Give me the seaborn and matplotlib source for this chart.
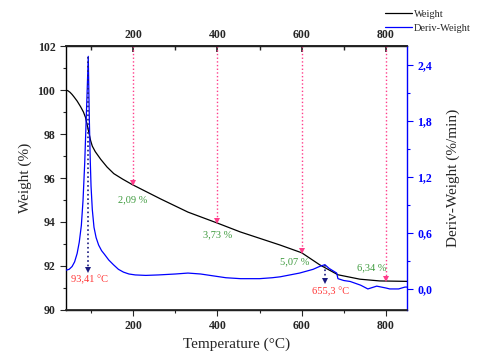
import numpy as np
import pandas as pd
import matplotlib
matplotlib.use("Agg")
import matplotlib.pyplot as plt
from matplotlib.ticker import MultipleLocator, FuncFormatter
import seaborn as sns

# TGA curve (weight %)
weight_temp = [40, 45, 50, 55, 60, 67, 75, 82, 87, 91, 95, 99, 103, 110, 123, 138, 154,
               175, 198, 265, 330, 400, 454, 549, 600, 643, 686, 738, 785, 850]
weight_pct = [100.0, 99.97, 99.9, 99.8, 99.68, 99.5, 99.25, 99.0, 98.75, 98.4, 98.05,
              97.7, 97.45, 97.2, 96.85, 96.5, 96.2, 95.95, 95.7, 95.05, 94.45, 93.95,
              93.55, 92.95, 92.6, 92.05, 91.6, 91.4, 91.32, 91.3]

# DTG curve (%/min)
dtg_temp = [40, 48, 55, 61, 67, 72, 77, 81, 85, 88, 91, 93.4, 94.5, 96, 98, 100, 103,
            107, 112, 118, 125, 132, 142, 153, 165, 177, 190, 205, 230, 260, 300, 330,
            360, 390, 420, 455, 500, 530, 549, 595, 627, 642, 655, 665, 683, 686, 700,
            715, 740, 757, 778, 800, 809, 830, 845, 850]
dtg_val = [0.20, 0.21, 0.24, 0.29, 0.38, 0.50, 0.68, 0.95, 1.35, 1.75, 2.15, 2.49, 2.2,
           1.8, 1.4, 1.1, 0.85, 0.66, 0.55, 0.47, 0.41, 0.37, 0.31, 0.26, 0.21, 0.18,
           0.16, 0.15, 0.145, 0.15, 0.16, 0.17, 0.16, 0.14, 0.12, 0.11, 0.11, 0.12,
           0.13, 0.17, 0.21, 0.24, 0.26, 0.22, 0.17, 0.11, 0.09, 0.08, 0.04, 0.0, 0.03,
           0.01, 0.0, 0.0, 0.02, 0.02]

# weight-loss markers
loss_temps = [200, 400, 600, 800]
loss_labels = ["2,09 %", "3,73 %", "5,07 %", "6,34 %"]
loss_label_pos = [(200, 95.0), (400, 93.4), (583, 92.2), (767, 91.9)]

# DTG peaks
peak_temps = [93.41, 655.3]
peak_labels = ["93,41 °C", "655,3 °C"]
peak_arrow_end = [0.17, 0.06]
peak_label_pos = [(97, 91.4), (668, 90.85)]

sns.set_theme(style="ticks")
plt.rcParams["font.family"] = ["Liberation Serif", "DejaVu Serif"]

pink = "#ff3d8b"
navy = "#1a1a80"
green = "#3d9a3d"
red = "#ff3333"
blue = "#0000ff"

df_w = pd.DataFrame({"Temperature": weight_temp, "Weight": weight_pct})
df_d = pd.DataFrame({"Temperature": dtg_temp, "Deriv": dtg_val})

fig = plt.figure(figsize=(4.8, 3.6), dpi=100)
ax = fig.add_axes([0.137, 0.139, 0.711, 0.733])
ax2 = ax.twinx()

sns.lineplot(data=df_w, x="Temperature", y="Weight", ax=ax, color="black", lw=0.9,
             label="Weight", legend=False)
sns.lineplot(data=df_d, x="Temperature", y="Deriv", ax=ax2, color=blue, lw=0.9,
             label="Deriv-Weight", legend=False)

ax.set_xlim(40, 850)
ax.set_ylim(90, 102)
ax2.set_ylim(-0.225, 2.6)

# pink dotted arrows from top down to weight curve
for t in loss_temps:
    y_end = np.interp(t, weight_temp, weight_pct)
    ax.plot([t, t], [102, y_end + 0.1], ls=":", color=pink, lw=1.0)
    ax.plot(t, y_end + 0.1, marker="v", color=pink, ms=4, mew=0)

for (x, y), lab in zip(loss_label_pos, loss_labels):
    ax.text(x, y, lab, color=green, fontsize=7.5, ha="center", va="center")

# navy dotted arrows at DTG peaks
for t, y_end in zip(peak_temps, peak_arrow_end):
    y0 = np.interp(t, dtg_temp, dtg_val)
    ax2.plot([t, t], [y0, y_end + 0.03], ls=":", color=navy, lw=1.2)
    ax2.plot(t, y_end + 0.03, marker="v", color=navy, ms=4, mew=0)

for (x, y), lab in zip(peak_label_pos, peak_labels):
    ax.text(x, y, lab, color=red, fontsize=7.5, ha="center", va="center")

# axes styling
ax.set_xlabel("Temperature (°C)", fontsize=11)
ax.set_ylabel("Weight (%)", fontsize=11)
ax2.set_ylabel("Deriv-Weight (%/min)", fontsize=11, labelpad=10)

ax.xaxis.set_major_locator(MultipleLocator(200))
ax.xaxis.set_minor_locator(MultipleLocator(100))
ax.yaxis.set_major_locator(MultipleLocator(2))
ax.yaxis.set_minor_locator(MultipleLocator(1))
ax2.yaxis.set_major_locator(MultipleLocator(0.6))
ax2.yaxis.set_minor_locator(MultipleLocator(0.3))
ax2.yaxis.set_major_formatter(FuncFormatter(lambda v, p: f"{v:.1f}".replace(".", ",")))

ax.tick_params(axis="both", which="major", labelsize=8.5, length=4, width=0.8, direction="out")
ax.tick_params(axis="both", which="minor", length=2.5, width=0.8, direction="out")
for lab in ax.get_xticklabels() + ax.get_yticklabels():
    lab.set_fontweight("bold")

ax2.tick_params(axis="y", which="major", labelsize=8.5, length=4, width=0.8,
                colors=blue, direction="out")
ax2.tick_params(axis="y", which="minor", length=2.5, width=0.8, colors=blue, direction="out")
for lab in ax2.get_yticklabels():
    lab.set_fontweight("bold")

for s in ["left", "bottom", "top"]:
    ax.spines[s].set_color("black")
    ax.spines[s].set_linewidth(1.0)
ax2.spines["right"].set_color(blue)
ax2.spines["right"].set_linewidth(1.0)
ax.spines["right"].set_visible(False)
ax2.spines["left"].set_visible(False)

top = ax.secondary_xaxis("top")
top.xaxis.set_major_locator(MultipleLocator(200))
top.xaxis.set_minor_locator(MultipleLocator(100))
top.tick_params(axis="x", which="major", labelsize=8.5, length=4, direction="in")
top.tick_params(axis="x", which="minor", length=3, direction="in")
top.set_xticks([200, 400, 600, 800])
for lab in top.get_xticklabels():
    lab.set_fontweight("bold")

handles = ax.get_lines()[:1] + ax2.get_lines()[:1]
fig.legend(handles, ["Weight", "Deriv-Weight"], loc="upper right", bbox_to_anchor=(1.0, 1.0),
           frameon=False, fontsize=7.5, handlelength=2.6, handletextpad=0.2, labelspacing=0.45)

fig.savefig("out.png", dpi=100)
